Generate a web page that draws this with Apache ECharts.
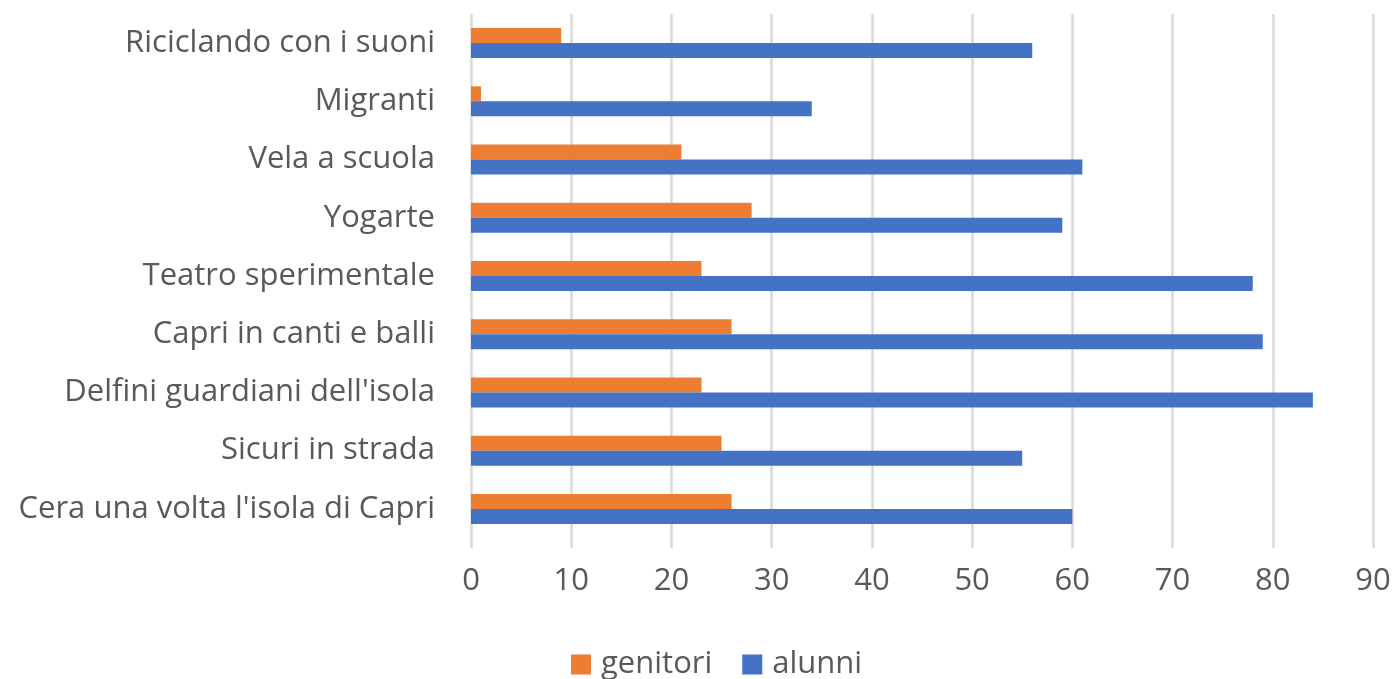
<!DOCTYPE html>
<html>
<head>
<meta charset="utf-8">
<script src="https://cdn.jsdelivr.net/npm/echarts@6/dist/echarts.min.js"></script>
<style>
  html, body { margin: 0; padding: 0; background: #fff; }
  #main { width: 1399px; height: 679px; }
</style>
</head>
<body>
<div id="main"></div>
<script>
// categorie (dal basso verso l'alto)
let categories = [
  "Cera una volta l'isola di Capri",
  "Sicuri in strada",
  "Delfini guardiani dell'isola",
  "Capri in canti e balli",
  "Teatro sperimentale",
  "Yogarte",
  "Vela a scuola",
  "Migranti",
  "Riciclando con i suoni"
];
let genitori = [26, 25, 23, 26, 23, 28, 21, 1, 9];
let alunni = [60, 55, 84, 79, 78, 59, 61, 34, 56];
let xTicks = [0, 10, 20, 30, 40, 50, 60, 70, 80, 90];

let myChart = echarts.init(document.getElementById("main"));

let textColor = "#595959";
let fontFamily = "'Open Sans', sans-serif";

let option = {
  animation: false,
  textStyle: { fontFamily: fontFamily },
  legend: {
    data: ["genitori", "alunni"],
    top: 644,
    left: 566,
    itemWidth: 20,
    itemHeight: 20,
    itemGap: 30,
    icon: "rect",
    textStyle: { fontSize: 31, color: textColor, fontFamily: fontFamily, padding: [0, 0, 0, 5] }
  },
  grid: {
    left: 471,
    right: 26,
    top: 14,
    bottom: 141
  },
  xAxis: {
    type: "value",
    min: xTicks[0],
    max: xTicks[xTicks.length - 1],
    interval: 10,
    axisLine: { show: false },
    axisTick: { show: true, length: 10, lineStyle: { color: "#d9d9d9", width: 2.5 } },
    splitLine: { show: true, lineStyle: { color: "#d9d9d9", width: 2.5 } },
    axisLabel: { fontSize: 31, color: textColor, margin: 28, fontFamily: fontFamily }
  },
  yAxis: {
    type: "category",
    data: categories,
    axisLine: { show: false },
    axisTick: { show: false },
    axisLabel: { fontSize: 31, color: textColor, margin: 36, fontFamily: fontFamily }
  },
  series: [
    {
      name: "genitori",
      type: "bar",
      data: genitori,
      barWidth: 15,
      barGap: "0%",
      itemStyle: { color: "#ed7d31" }
    },
    {
      name: "alunni",
      type: "bar",
      data: alunni,
      barWidth: 15,
      barGap: "0%",
      itemStyle: { color: "#4472c4" }
    }
  ]
};

myChart.setOption(option);
</script>
</body>
</html>
